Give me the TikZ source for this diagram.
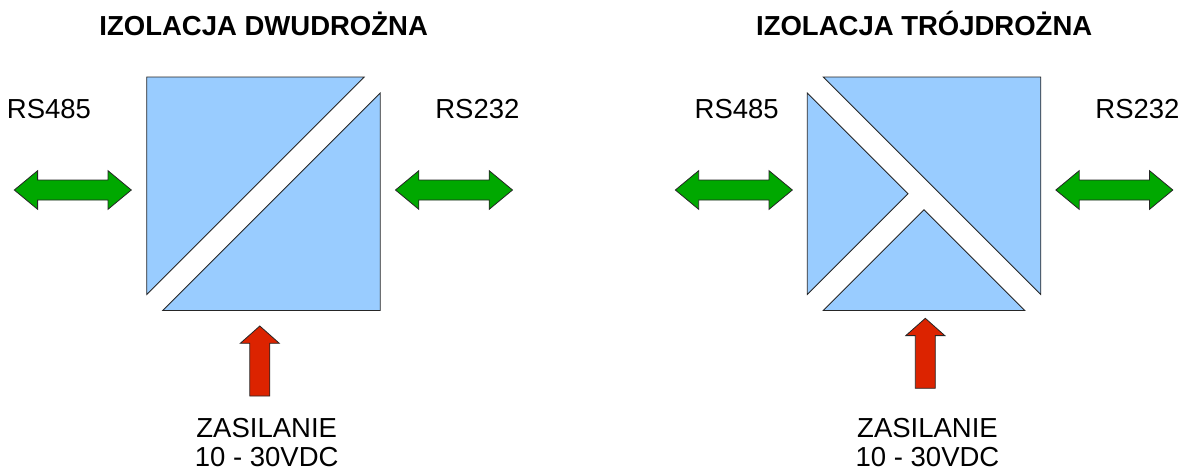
\documentclass[tikz,border=0pt]{standalone}
\usepackage{fontspec}
\setmainfont{Liberation Sans}
\usetikzlibrary{positioning}

\definecolor{niebieski}{HTML}{99CCFF}
\definecolor{zielony}{HTML}{00A800}
\definecolor{czerwony}{HTML}{DC2300}

\begin{document}
\begin{tikzpicture}[
  x=1pt, y=-1pt,
  blok/.style={draw=black!85, line width=0.8pt, fill=niebieski},
  strzalka/.style={draw=black!85, line width=0.8pt},
  napis/.style={inner sep=0pt, anchor=base, font=\fontsize{27.5}{29}\selectfont},
  tytul/.style={napis, font=\fontsize{27.5}{29}\selectfont\bfseries},
  dwustrzalka/.pic={
    \draw[strzalka, fill=zielony] (-58.5,0) -- (-35.2,-19.3) -- (-35.2,-10) -- (35.2,-10)
      -- (35.2,-19.3) -- (58.5,0) -- (35.2,19.3) -- (35.2,10) -- (-35.2,10)
      -- (-35.2,19.3) -- cycle;
  },
  zasilanie/.pic={
    \draw[strzalka, fill=czerwony] (0,0) -- (19.5,17.3) -- (10,17.3) -- (10,70)
      -- (-10,70) -- (-10,17.3) -- (-19.5,17.3) -- cycle;
  }
]
  \useasboundingbox (0,0) rectangle (1181,469);

  % izolacja dwudrozna
  \begin{scope}[shift={(146.7,77)}]
    \draw[blok] (0,0) -- (217.5,0) -- (0,217.5) -- cycle;
    \draw[blok] (233.5,16) -- (233.5,233.5) -- (16,233.5) -- cycle;
  \end{scope}
  \node[tytul] (tytul2) at (263.7,35.7) {IZOLACJA DWUDRO\symbol{"017B}NA};
  \node[napis] (rs485a) at (49,118) {RS485};
  \node[napis] (rs232a) at (477.4,118) {RS232};
  \pic at (72.8,190) {dwustrzalka};
  \pic at (454,190) {dwustrzalka};
  \pic at (259.8,326) {zasilanie};
  \node[napis, align=center] (zasilA) at (266.7,466.7) {ZASILANIE\\10 - 30VDC};

  % izolacja trojdrozna
  \begin{scope}[shift={(807.3,77)}]
    \draw[blok] (16,0) -- (233.5,0) -- (233.5,217.5) -- cycle;
    \draw[blok] (0,16) -- (100.75,116.75) -- (0,217.5) -- cycle;
    \draw[blok] (16,233.5) -- (116.75,132.75) -- (217.5,233.5) -- cycle;
  \end{scope}
  \node[tytul] (tytul3) at (924.2,35.7) {IZOLACJA TR\symbol{"00D3}JDRO\symbol{"017B}NA};
  \node[napis] (rs485b) at (736.7,118) {RS485};
  \node[napis] (rs232b) at (1137.5,118) {RS232};
  \pic at (733.85,190) {dwustrzalka};
  \pic at (1114.35,190) {dwustrzalka};
  \pic at (925.3,318.3) {zasilanie};
  \node[napis, align=center] (zasilB) at (927.5,466.7) {ZASILANIE\\10 - 30VDC};
\end{tikzpicture}
\end{document}
